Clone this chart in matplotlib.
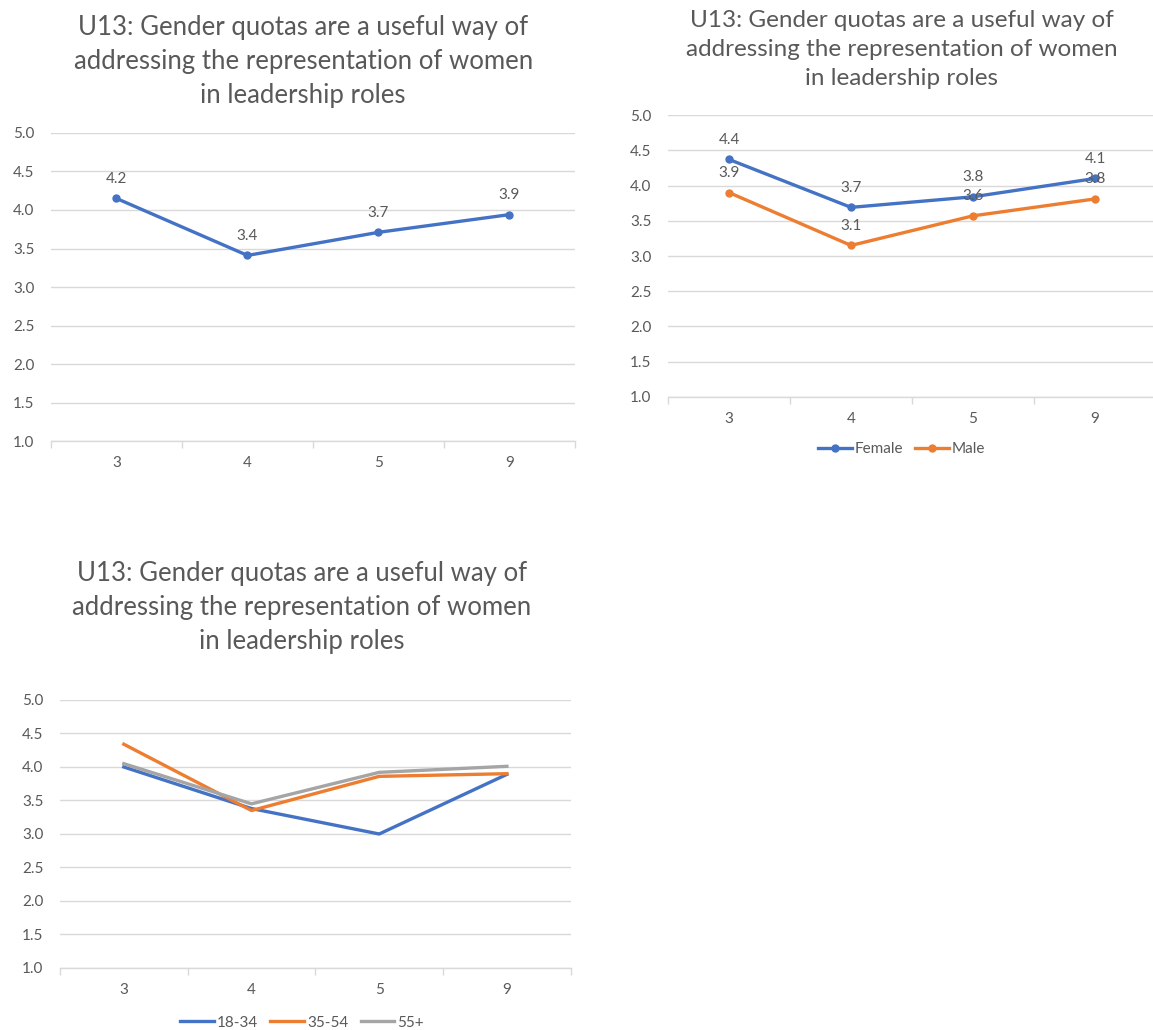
import matplotlib
matplotlib.use("Agg")
import matplotlib.pyplot as plt

plt.rcParams['font.family'] = ['Lato', 'DejaVu Sans']

TITLE = "U13: Gender quotas are a useful way of\naddressing the representation of women\nin leadership roles"
categories = ["3", "4", "5", "9"]

# overall average
overall = [4.15, 3.41, 3.71, 3.94]

# by gender
female = [4.37, 3.69, 3.84, 4.10]
male = [3.90, 3.15, 3.57, 3.81]

# by age band
age_18_34 = [4.00, 3.38, 3.00, 3.89]
age_35_54 = [4.34, 3.35, 3.86, 3.90]
age_55_plus = [4.05, 3.45, 3.92, 4.01]

BLUE = "#4472C4"
ORANGE = "#ED7D31"
GREY = "#A5A5A5"
TEXT = "#595959"
GRID = "#D9D9D9"


def style_axes(ax):
    ax.set_ylim(1.0, 5.0)
    ax.set_yticks([1.0, 1.5, 2.0, 2.5, 3.0, 3.5, 4.0, 4.5, 5.0])
    ax.yaxis.set_major_formatter(matplotlib.ticker.FormatStrFormatter('%.1f'))
    ax.set_xlim(-0.5, len(categories) - 0.5)
    ax.set_xticks(range(len(categories)))
    ax.set_xticklabels(categories)
    ax.set_xticks([i - 0.5 for i in range(len(categories) + 1)], minor=True)
    ax.grid(axis='y', color=GRID, linewidth=1)
    ax.set_axisbelow(True)
    for side in ['top', 'right', 'left']:
        ax.spines[side].set_visible(False)
    ax.spines['bottom'].set_color(GRID)
    ax.spines['bottom'].set_linewidth(1)
    ax.tick_params(axis='y', length=0, colors=TEXT, labelsize=11, pad=12)
    ax.tick_params(axis='x', which='major', length=0, colors=TEXT, labelsize=11, pad=11)
    ax.tick_params(axis='x', which='minor', length=5, color=GRID, width=1)


def label_points(ax, values):
    for i, v in enumerate(values):
        ax.annotate(f"{v:.1f}", (i, v), xytext=(0, 14), textcoords='offset points',
                    ha='center', va='center', color=TEXT, fontsize=11)


fig = plt.figure(figsize=(11.53, 10.30), dpi=100)
fig.patch.set_facecolor('white')
x = range(len(categories))

# top left: overall
ax1 = fig.add_axes([0.0442, 0.5718, 0.4545, 0.2991])
style_axes(ax1)
ax1.plot(x, overall, color=BLUE, linewidth=2.4, marker='o', markersize=5)
label_points(ax1, overall)
fig.text(0.263, 0.94, TITLE, ha='center', va='center', fontsize=18.5,
         color=TEXT, linespacing=1.45)

# top right: gender
ax2 = fig.add_axes([0.5794, 0.6146, 0.4232, 0.2737])
style_axes(ax2)
ax2.plot(x, female, color=BLUE, linewidth=2.4, marker='o', markersize=5, label="Female")
ax2.plot(x, male, color=ORANGE, linewidth=2.4, marker='o', markersize=5, label="Male")
label_points(ax2, female)
label_points(ax2, male)
fig.text(0.782, 0.952, TITLE, ha='center', va='center', fontsize=17.5,
         color=TEXT, linespacing=1.45)
fig.legend(handles=ax2.get_lines(), loc='center', bbox_to_anchor=(0.782, 0.564),
           ncol=2, frameon=False, fontsize=11, labelcolor=TEXT, handlelength=2.2,
           handletextpad=0.2, columnspacing=0.8)

# bottom left: age
ax3 = fig.add_axes([0.052, 0.0602, 0.443, 0.2602])
style_axes(ax3)
ax3.plot(x, age_18_34, color=BLUE, linewidth=2.4, label="18-34")
ax3.plot(x, age_35_54, color=ORANGE, linewidth=2.4, label="35-54")
ax3.plot(x, age_55_plus, color=GREY, linewidth=2.4, label="55+")
fig.text(0.262, 0.410, TITLE, ha='center', va='center', fontsize=18.5,
         color=TEXT, linespacing=1.45)
fig.legend(handles=ax3.get_lines(), loc='center', bbox_to_anchor=(0.262, 0.007),
           ncol=3, frameon=False, fontsize=11, labelcolor=TEXT, handlelength=2.2,
           handletextpad=0.2, columnspacing=0.8)

fig.savefig("out.png", dpi=100, facecolor='white')
